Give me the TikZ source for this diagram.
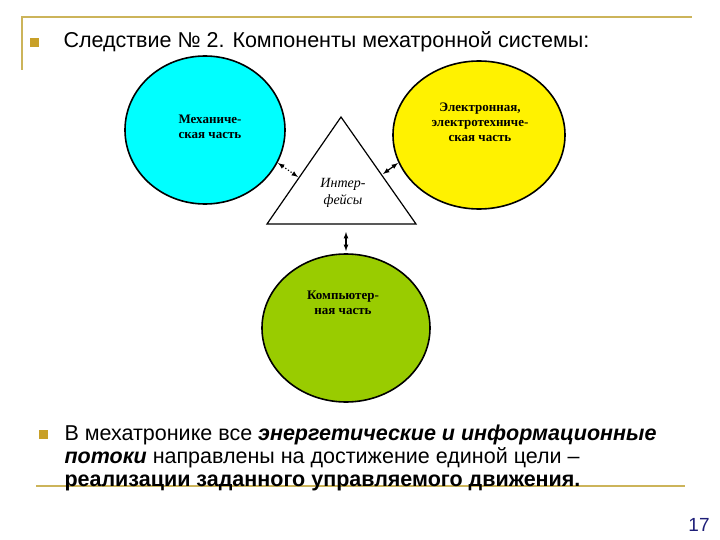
\documentclass[tikz,border=0pt]{standalone}
\usepackage{fontspec}
\setmainfont{Liberation Serif}
\newfontfamily\arial{Liberation Sans}
\definecolor{olive}{RGB}{204,180,90}
\definecolor{bul}{RGB}{200,160,40}
\definecolor{cy}{RGB}{0,255,255}
\definecolor{gr}{RGB}{153,204,0}
\definecolor{num}{RGB}{30,30,120}
\begin{document}
\begin{tikzpicture}[x=1pt,y=-1pt,
  circ/.style={draw=black,line width=1.6pt},
  lbl/.style={font=\bfseries\fontsize{13}{15}\selectfont,align=center},
  bullet/.style={fill=bul,minimum size=9pt,inner sep=0pt},
  txt/.style={font=\arial\fontsize{21.5}{23}\selectfont,anchor=west},
  conn/.style={<->,>=latex,line width=1.2pt}]
\useasboundingbox (0,0) rectangle (720,540);
\draw[olive,line width=1.5pt] (22,70) -- (22,17) -- (692,17);
\draw[olive,line width=1.5pt] (36,486) -- (685,486);
\node[bullet] (b1) at (34,43) {};
\node[txt] (t1) at (60,42) {Следствие № 2. Компоненты мехатронной системы:};
\draw[circ,fill=cy] (205,130) ellipse [x radius=80,y radius=74];
\draw[circ,fill=yellow] (479,135) ellipse [x radius=86,y radius=74];
\draw[circ,fill=gr] (346,328) ellipse [x radius=84,y radius=74];
\node[lbl] (m) at (210,127) {Механиче-\\ская часть};
\node[lbl] (e) at (480,122) {Электронная,\\электротехниче-\\ская часть};
\node[lbl] (k) at (343,303) {Компьютер-\\ная часть};
\draw[line width=1.2pt,fill=white] (341,117) -- (416,224) -- (267,224) -- cycle;
\node[font=\itshape\fontsize{14}{17}\selectfont,align=center] (i) at (343,193) {Интер-\\фейсы};
\coordinate (a1) at (278,163); \coordinate (a2) at (298,177);
\coordinate (b1e) at (383,174); \coordinate (b2) at (398,163);
\coordinate (c1) at (346,232); \coordinate (c2) at (346,251);
\draw[conn,dotted] (a1) -- (a2);
\draw[conn] (b1e) -- (b2);
\draw[conn] (c1) -- (c2);
\node[bullet] (b2n) at (43,434) {};
\node[txt,align=left,anchor=north west] (t2) at (61,421) {В мехатронике все \textbf{\textit{энергетические и  информационные}}\\\textbf{\textit{потоки}} направлены на достижение единой цели –\\\textbf{реализации  заданного управляемого движения.}};
\node[font=\arial\fontsize{19}{21}\selectfont,text=num] (n) at (699,525) {17};
\end{tikzpicture}
\end{document}
